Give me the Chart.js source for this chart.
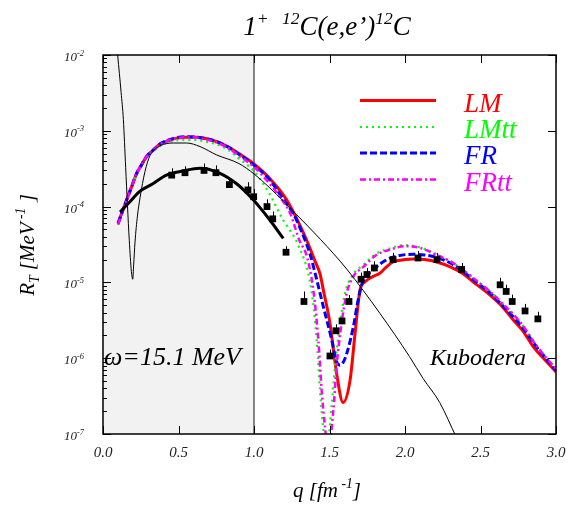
<!DOCTYPE html>
<html>
<head>
<meta charset="utf-8">
<script src="https://cdn.jsdelivr.net/npm/chart.js@4.4.0/dist/chart.umd.min.js"></script>
<style>
  body { margin: 0; background: #fff; }
  canvas { display: block; }
</style>
</head>
<body>
<canvas id="grafica" width="568" height="505"></canvas>
<script>
// curvas teoricas (q en fm^-1, R_T en MeV^-1)
const qLM = [0.10, 0.125, 0.157, 0.19, 0.223, 0.255, 0.289, 0.33, 0.377, 0.43, 0.488, 0.55, 0.60, 0.68, 0.753, 0.83, 0.90, 0.995, 1.10, 1.216, 1.349, 1.40, 1.437, 1.46, 1.503, 1.547, 1.59, 1.636, 1.669, 1.702, 1.735, 1.79, 1.834, 1.87, 1.92, 2.00, 2.055, 2.13, 2.21, 2.30, 2.386, 2.47, 2.563, 2.64, 2.717, 2.78, 2.85, 2.92, 3.00];
const rLM = [6.0e-5, 8.3e-5, 1.23e-4, 1.84e-4, 2.75e-4, 3.55e-4, 4.6e-4, 5.5e-4, 6.7e-4, 7.4e-4, 8.0e-4, 8.25e-4, 8.3e-4, 7.9e-4, 7.2e-4, 6.1e-4, 5.0e-4, 3.7e-4, 2.4e-4, 1.23e-4, 3.6e-5, 2.0e-5, 1.3e-5, 7.8e-6, 2.9e-6, 6.3e-7, 2.6e-7, 5.1e-7, 2.1e-6, 7.9e-6, 1.02e-5, 1.2e-5, 1.32e-5, 1.55e-5, 1.86e-5, 2.0e-5, 2.04e-5, 2.0e-5, 1.86e-5, 1.6e-5, 1.29e-5, 9.5e-6, 6.8e-6, 4.9e-6, 3.2e-6, 2.3e-6, 1.41e-6, 9.8e-7, 6.6e-7];

const qLMtt = [0.10, 0.125, 0.157, 0.19, 0.223, 0.255, 0.289, 0.33, 0.377, 0.43, 0.488, 0.55, 0.60, 0.68, 0.753, 0.83, 0.90, 0.995, 1.10, 1.194, 1.24, 1.29, 1.38, 1.415, 1.437, 1.455, 1.48, 1.515, 1.536, 1.57, 1.603, 1.647, 1.724, 1.81, 1.90, 1.99, 2.10, 2.21, 2.30, 2.386, 2.47, 2.563, 2.64, 2.717, 2.78, 2.85, 2.92, 3.00];
const rLMtt = [5.8e-5, 8.0e-5, 1.2e-4, 1.8e-4, 2.65e-4, 3.45e-4, 4.4e-4, 5.3e-4, 6.3e-4, 7.0e-4, 7.5e-4, 7.6e-4, 7.6e-4, 7.2e-4, 6.6e-4, 5.6e-4, 4.3e-4, 3.0e-4, 1.5e-4, 6.6e-5, 4.8e-5, 3.2e-5, 7.9e-6, 1.74e-6, 3.8e-7, 1.4e-7, 6e-8, 2.5e-7, 7.8e-7, 2.9e-6, 7.2e-6, 1.2e-5, 1.7e-5, 2.4e-5, 2.8e-5, 3.1e-5, 2.9e-5, 2.35e-5, 1.9e-5, 1.45e-5, 1.07e-5, 7.6e-6, 5.4e-6, 3.8e-6, 2.7e-6, 1.7e-6, 1.12e-6, 7.3e-7];

const qFR = [0.10, 0.125, 0.157, 0.19, 0.223, 0.255, 0.289, 0.33, 0.377, 0.43, 0.488, 0.55, 0.60, 0.68, 0.753, 0.83, 0.90, 0.995, 1.10, 1.20, 1.26, 1.30, 1.37, 1.41, 1.459, 1.515, 1.547, 1.57, 1.59, 1.614, 1.658, 1.69, 1.724, 1.79, 1.834, 1.92, 2.055, 2.13, 2.21, 2.30, 2.386, 2.47, 2.563, 2.64, 2.717, 2.78, 2.85, 2.92, 3.00];
const rFR = [6.0e-5, 8.3e-5, 1.23e-4, 1.84e-4, 2.75e-4, 3.55e-4, 4.6e-4, 5.5e-4, 6.7e-4, 7.5e-4, 8.1e-4, 8.35e-4, 8.3e-4, 7.9e-4, 7.2e-4, 6.1e-4, 4.9e-4, 3.6e-4, 2.3e-4, 1.2e-4, 8.1e-5, 5.5e-5, 2.4e-5, 1.2e-5, 4.8e-6, 1.74e-6, 8.9e-7, 8.1e-7, 8.8e-7, 1.15e-6, 2.6e-6, 5.9e-6, 1.07e-5, 1.45e-5, 1.75e-5, 2.15e-5, 2.35e-5, 2.3e-5, 2.14e-5, 1.8e-5, 1.38e-5, 1.02e-5, 7.2e-6, 5.1e-6, 3.5e-6, 2.5e-6, 1.6e-6, 1.06e-6, 6.9e-7];

const qFRtt = [0.10, 0.125, 0.157, 0.19, 0.223, 0.255, 0.289, 0.33, 0.377, 0.43, 0.488, 0.55, 0.60, 0.68, 0.753, 0.83, 0.90, 0.995, 1.10, 1.17, 1.24, 1.30, 1.35, 1.393, 1.426, 1.448, 1.47, 1.49, 1.525, 1.547, 1.58, 1.614, 1.658, 1.724, 1.81, 1.90, 2.00, 2.10, 2.21, 2.30, 2.386, 2.47, 2.563, 2.64, 2.717, 2.78, 2.85, 2.92, 3.00];
const rFRtt = [5.8e-5, 8.3e-5, 1.23e-4, 1.84e-4, 2.75e-4, 3.55e-4, 4.6e-4, 5.5e-4, 6.6e-4, 7.4e-4, 8.0e-4, 8.2e-4, 8.2e-4, 7.7e-4, 7.0e-4, 5.9e-4, 4.7e-4, 3.4e-4, 2.05e-4, 1.35e-4, 8.1e-5, 3.6e-5, 2.2e-5, 7.9e-6, 1.74e-6, 3.8e-7, 1.25e-7, 6e-8, 2.0e-7, 7.8e-7, 2.9e-6, 7.2e-6, 1.2e-5, 1.6e-5, 2.3e-5, 2.7e-5, 3.0e-5, 2.85e-5, 2.3e-5, 1.9e-5, 1.45e-5, 1.07e-5, 7.6e-6, 5.4e-6, 3.8e-6, 2.7e-6, 1.66e-6, 1.1e-6, 7.2e-7];

// curva negra fina y curva negra gruesa
const qFino = [0.097, 0.12, 0.135, 0.15, 0.174, 0.188, 0.197, 0.203, 0.212, 0.228, 0.245, 0.278, 0.311, 0.377, 0.466, 0.554, 0.642, 0.753, 0.90, 1.00, 1.10, 1.20, 1.283, 1.44, 1.614, 1.834, 2.03, 2.12, 2.23, 2.34];
const rFino = [1.0e-2, 3.2e-3, 1.4e-3, 3.3e-4, 3.6e-5, 1.4e-5, 1.1e-5, 1.7e-5, 3.4e-5, 7.5e-5, 1.3e-4, 2.9e-4, 4.7e-4, 6.3e-4, 6.9e-4, 6.9e-4, 6.2e-4, 4.8e-4, 3.7e-4, 2.7e-4, 1.8e-4, 1.15e-4, 7.8e-5, 3.7e-5, 1.5e-5, 3.9e-6, 1.05e-6, 5.4e-7, 2.6e-7, 9e-8];

const qGrueso = [0.113, 0.18, 0.245, 0.33, 0.42, 0.53, 0.642, 0.775, 0.885, 0.995, 1.106, 1.194];
const rGrueso = [8.5e-5, 1.17e-4, 1.6e-4, 2.0e-4, 2.6e-4, 2.95e-4, 3.2e-4, 2.75e-4, 2.0e-4, 1.23e-4, 6.6e-5, 3.8e-5];

// datos experimentales (Kubodera)
const qExp = [0.455, 0.543, 0.669, 0.748, 0.837, 0.96, 0.998, 1.086, 1.124, 1.212, 1.331, 1.503, 1.543, 1.583, 1.629, 1.709, 1.748, 1.797, 1.921, 2.086, 2.212, 2.375, 2.63, 2.67, 2.71, 2.795, 2.88];
const rExp = [2.6e-4, 2.8e-4, 3.0e-4, 2.8e-4, 1.95e-4, 1.66e-4, 1.35e-4, 1.0e-4, 6.9e-5, 2.5e-5, 5.6e-6, 1.07e-6, 2.3e-6, 3.1e-6, 5.6e-6, 1.1e-5, 1.27e-5, 1.55e-5, 2.0e-5, 2.1e-5, 2.0e-5, 1.48e-5, 9.3e-6, 7.6e-6, 5.6e-6, 4.2e-6, 3.3e-6];
const rExpSup = [3.2e-4, 3.4e-4, 3.7e-4, 3.5e-4, 2.4e-4, 2.1e-4, 1.7e-4, 1.25e-4, 8.6e-5, 3.0e-5, 7.6e-6, 1.3e-6, 2.8e-6, 3.8e-6, 6.8e-6, 1.35e-5, 1.55e-5, 1.9e-5, 2.45e-5, 2.6e-5, 2.45e-5, 1.8e-5, 1.15e-5, 9.3e-6, 6.9e-6, 5.2e-6, 4.1e-6];

const ticksX = [0, 0.5, 1.0, 1.5, 2.0, 2.5, 3.0];
const decadas = [-7, -6, -5, -4, -3, -2];
const nombresLeyenda = ["LM", "LMtt", "FR", "FRtt"];

function pares(xs, ys) {
  return xs.map((x, i) => ({ x: x, y: ys[i] }));
}

function fuente(t) {
  return "italic " + t + "px 'Liberation Serif', 'DejaVu Serif', serif";
}

// texto con superindices (1) y subindices (-1)
function texto(ctx, partes, x, y, tam, alinear) {
  let ancho = 0;
  partes.forEach(p => {
    ctx.font = fuente(p[1] ? tam * 0.65 : tam);
    ancho += ctx.measureText(p[0]).width;
  });
  let xi = alinear === "center" ? x - ancho / 2 : alinear === "right" ? x - ancho : x;
  ctx.textAlign = "left";
  ctx.textBaseline = "alphabetic";
  partes.forEach(p => {
    ctx.font = fuente(p[1] ? tam * 0.65 : tam);
    let dy = p[1] === 1 ? -tam * 0.42 : p[1] === -1 ? tam * 0.22 : 0;
    ctx.fillText(p[0], xi, y + dy);
    xi += ctx.measureText(p[0]).width;
  });
}

const decorado = {
  id: "decorado",
  beforeDatasetsDraw(chart) {
    const ctx = chart.ctx;
    const a = chart.chartArea;
    const x = chart.scales.x;
    const y = chart.scales.y;
    ctx.save();
    ctx.fillStyle = "#f2f2f2";
    ctx.fillRect(a.left, a.top, x.getPixelForValue(1) - a.left, a.bottom - a.top);
    ctx.strokeStyle = "#444";
    ctx.lineWidth = 1.3;
    ctx.beginPath();
    ctx.moveTo(x.getPixelForValue(1), a.top);
    ctx.lineTo(x.getPixelForValue(1), a.bottom);
    ctx.stroke();
    // barras de error
    ctx.strokeStyle = "#000";
    ctx.lineWidth = 1;
    qExp.forEach((q, i) => {
      const px = Math.round(x.getPixelForValue(q)) + 0.5;
      ctx.beginPath();
      ctx.moveTo(px, y.getPixelForValue(rExp[i]));
      ctx.lineTo(px, y.getPixelForValue(rExpSup[i]));
      ctx.stroke();
    });
    ctx.restore();
  },
  afterDraw(chart) {
    const ctx = chart.ctx;
    const a = chart.chartArea;
    const x = chart.scales.x;
    const y = chart.scales.y;
    ctx.save();
    ctx.strokeStyle = "#000";
    ctx.fillStyle = "#000";
    ctx.lineWidth = 1.5;
    ctx.strokeRect(a.left, a.top, a.right - a.left, a.bottom - a.top);

    ctx.lineWidth = 1;
    ctx.beginPath();
    ticksX.forEach(t => {
      const px = Math.round(x.getPixelForValue(t)) + 0.5;
      ctx.moveTo(px, a.bottom); ctx.lineTo(px, a.bottom - 8);
      ctx.moveTo(px, a.top); ctx.lineTo(px, a.top + 8);
    });
    decadas.forEach(d => {
      const py = Math.round(y.getPixelForValue(Math.pow(10, d))) + 0.5;
      ctx.moveTo(a.left, py); ctx.lineTo(a.left + 8, py);
      ctx.moveTo(a.right, py); ctx.lineTo(a.right - 8, py);
      if (d < -2) {
        for (let m = 2; m <= 9; m++) {
          const pm = Math.round(y.getPixelForValue(m * Math.pow(10, d))) + 0.5;
          ctx.moveTo(a.left, pm); ctx.lineTo(a.left + 4, pm);
        }
      }
    });
    ctx.stroke();

    ctx.fillStyle = "#222";
    ticksX.forEach(t => {
      ctx.font = fuente(15);
      ctx.textAlign = "center";
      ctx.fillText(t.toFixed(1), x.getPixelForValue(t), a.bottom + 23);
    });
    decadas.forEach(d => {
      const py = y.getPixelForValue(Math.pow(10, d));
      texto(ctx, [["10", 0], [String(d), 1]], 84, py + 6, 13, "right");
    });

    ctx.fillStyle = "#000";
    texto(ctx, [["1", 0], ["+", 1], ["  ", 0], ["12", 1], ["C(e,e\u2019)", 0], ["12", 1], ["C", 0]], 327, 35, 27, "center");
    texto(ctx, [["q [fm", 0], [" -1", 1], ["]", 0]], 327, 497, 21, "center");
    ctx.save();
    ctx.translate(34, 245);
    ctx.rotate(-Math.PI / 2);
    texto(ctx, [["R", 0], ["T", -1], [" [MeV", 0], [" -1", 1], [" ]", 0]], 0, 0, 21, "center");
    ctx.restore();

    texto(ctx, [["\u03c9=15.1 MeV", 0]], 104, 365, 26, "left");
    texto(ctx, [["Kubodera", 0]], 430, 365, 24, "left");

    // leyenda
    const filas = [100.5, 127, 153, 179.5];
    nombresLeyenda.forEach((n, i) => {
      const ds = chart.data.datasets.find(d => d.label === n);
      ctx.strokeStyle = ds.borderColor;
      ctx.lineWidth = ds.borderWidth;
      ctx.setLineDash(ds.borderDash || []);
      ctx.beginPath();
      ctx.moveTo(360, filas[i]);
      ctx.lineTo(436, filas[i]);
      ctx.stroke();
      ctx.setLineDash([]);
      ctx.fillStyle = ds.borderColor;
      texto(ctx, [[n, 0]], 464, filas[i] + 11, 27, "left");
    });
    ctx.restore();
  }
};

const linea = { showLine: true, pointRadius: 0, fill: false, cubicInterpolationMode: "monotone" };

new Chart(document.getElementById("grafica").getContext("2d"), {
  type: "scatter",
  data: {
    datasets: [
      { label: "Kubodera", data: pares(qExp, rExp), showLine: false, pointStyle: "rect",
        pointRadius: 4.8, backgroundColor: "#000", borderColor: "#000", borderWidth: 0 },
      Object.assign({ label: "grueso", data: pares(qGrueso, rGrueso), borderColor: "#000", borderWidth: 3 }, linea),
      Object.assign({ label: "fino", data: pares(qFino, rFino), borderColor: "#000", borderWidth: 1 }, linea),
      Object.assign({ label: "FRtt", data: pares(qFRtt, rFRtt), borderColor: "#ff00ff", borderWidth: 2.5, borderDash: [6, 3, 2, 3] }, linea),
      Object.assign({ label: "FR", data: pares(qFR, rFR), borderColor: "#0000ff", borderWidth: 3, borderDash: [7, 3] }, linea),
      Object.assign({ label: "LMtt", data: pares(qLMtt, rLMtt), borderColor: "#00ff00", borderWidth: 2.2, borderDash: [2, 4] }, linea),
      Object.assign({ label: "LM", data: pares(qLM, rLM), borderColor: "#ff0000", borderWidth: 3 }, linea)
    ]
  },
  options: {
    responsive: false,
    animation: false,
    devicePixelRatio: 1,
    events: [],
    layout: { padding: { left: 103, right: 12, top: 55, bottom: 71 } },
    plugins: { legend: { display: false }, tooltip: { enabled: false } },
    scales: {
      x: { type: "linear", min: 0, max: 3, display: false },
      y: { type: "logarithmic", min: 1e-7, max: 1e-2, display: false }
    }
  },
  plugins: [decorado]
});
</script>
</body>
</html>
